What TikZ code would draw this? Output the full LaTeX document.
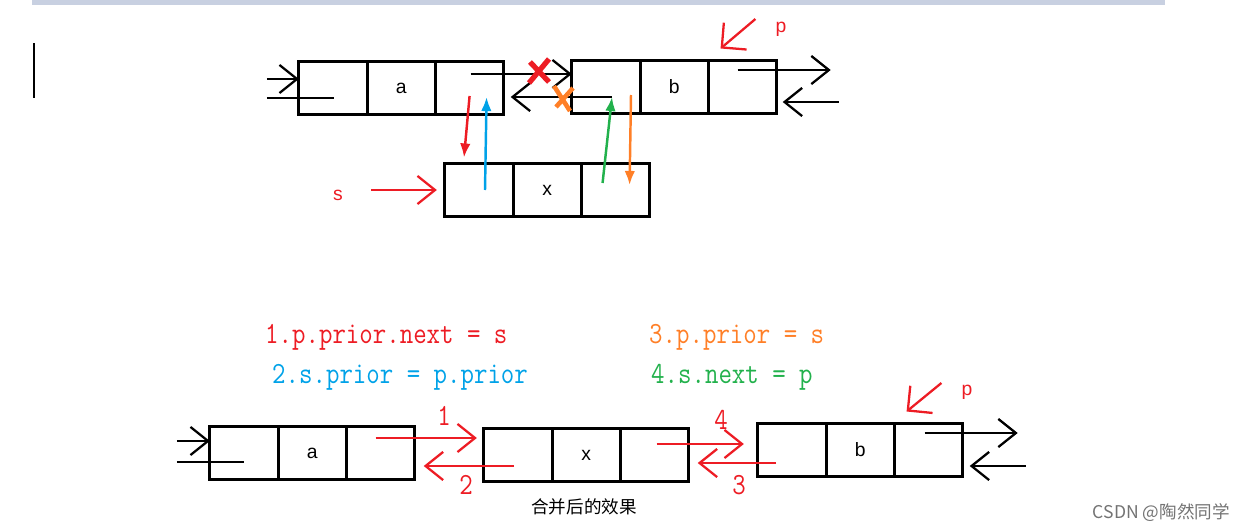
\documentclass[tikz,border=0pt]{standalone}
\usepackage{fontspec}
\setmainfont{Liberation Sans}
\newfontfamily\codefont[FakeStretch=0.85]{Latin Modern Mono}
\newfontfamily\cjk{Noto Sans CJK SC}
\usetikzlibrary{arrows.meta,positioning,calc}
\definecolor{pred}{RGB}{237,28,36}
\definecolor{porange}{RGB}{255,127,39}
\definecolor{pblue}{RGB}{0,162,232}
\definecolor{pgreen}{RGB}{34,177,76}
\definecolor{barblue}{RGB}{200,208,225}

\begin{document}
\begin{tikzpicture}[x=0.02cm,y=-0.02cm,node distance=0pt,
    cell/.style={draw,line width=1.7pt,minimum width=1.366cm,minimum height=1.06cm,
                 inner sep=0pt,outer sep=0pt,font=\fontsize{11}{13}\selectfont},
    link/.style={line width=1.3pt,-{Straight Barb[length=10pt,width=16pt]}},
    ptr/.style={line width=1.3pt,pred,-{Straight Barb[length=10pt,width=20pt]}},
    move/.style={line width=1.4pt,-{Latex[length=8pt,width=6pt]}},
    code/.style={anchor=west,font=\codefont\fontsize{17.5}{20}\selectfont},
    num/.style={font=\codefont\fontsize{17.5}{20}\selectfont,text=pred},
    lbl/.style={font=\fontsize{11}{13}\selectfont,text=pred}]
  \useasboundingbox (0,0) rectangle (1249,531);
  \fill[barblue] (32,0) rectangle (1165,5);
  \draw[line width=1.2pt] (34,43) -- (34,98);

  % before the insertion
  \node[cell] (aL) at (333,88) {};
  \node[cell,right=of aL] (aM) {a};
  \node[cell,right=of aM] (aR) {};
  \node[cell] (bL) at (606,87) {};
  \node[cell,right=of bL] (bM) {b};
  \node[cell,right=of bM] (bR) {};
  \node[cell] (xL) at (479,190) {};
  \node[cell,right=of xL] (xM) {x};
  \node[cell,right=of xM] (xR) {};

  \draw[link] ($(aL.west)+(-32,-9)$) -- ($(aL.west)+(0,-9)$);
  \draw[line width=1.3pt] ($(aL.west)+(-32,10)$) -- ($(aL.center)+(1,10)$);
  \draw[link] ($(aR.center)+(1,-14)$) -- ($(bL.west)+(0,-13)$);
  \draw[link] ($(bL.center)+(6,10)$) -- ($(aR.east)+(7,9)$);
  \draw[link] ($(bR.center)+(-5,-17)$) -- ($(bR.east)+(54,-17)$);
  \draw[link] ($(bR.east)+(62,15)$) -- ($(bR.east)+(6,15)$);
  \draw[pred,line width=3pt] (529,83) -- (549,59) (530,62) -- (549,82);
  \draw[porange,line width=2.6pt] (554,86) -- (570,111) (556,107) -- (573,88);
  \draw[move,pred] ($(aR.center)+(0,8)$) -- ($(xL.north)+(-15,-6)$);
  \draw[move,pblue] ($(xL.center)+(6,0)$) -- ($(aR.center)+(17,9)$);
  \draw[move,pgreen] ($(xR.center)+(-13,-7)$) -- ($(bL.center)+(6,10)$);
  \draw[move,porange] ($(bL.center)+(25,8)$) -- ($(xR.center)+(14,-5)$);

  \node[lbl] (s) at (338,195) {s};
  \draw[link,pred] ($(s.east)+(22,-5)$) -- ($(xL.west)+(-8,0)$);
  \node[lbl] (p) at (781,29) {p};
  \draw[ptr] ($(p.west)+(-14,-10)$) -- ($(bR.north)+(-22,-12)$);

  \node[code,text=pred]    (c1) at (259,337) {1.p.prior.next = s};
  \node[code,text=porange] (c3) at (643,337) {3.p.prior = s};
  \node[code,text=pblue]   (c2) at (266,377) {2.s.prior = p.prior};
  \node[code,text=pgreen]  (c4) at (645,377) {4.s.next = p};

  % after the insertion
  \node[cell] (AL) at (244,453) {};
  \node[cell,right=of AL] (AM) {a};
  \node[cell,right=of AM] (AR) {};
  \node[cell] (XL) at (518,455) {};
  \node[cell,right=of XL] (XM) {x};
  \node[cell,right=of XM] (XR) {};
  \node[cell] (BL) at (792,450) {};
  \node[cell,right=of BL] (BM) {b};
  \node[cell,right=of BM] (BR) {};

  \draw[link] ($(AL.west)+(-33,-12)$) -- ($(AL.west)+(0,-12)$);
  \draw[line width=1.3pt] ($(AL.west)+(-33,9)$) -- ($(AL.center)+(0,9)$);
  \draw[link,pred] ($(AR.center)+(-5,-15)$) -- ($(XL.west)+(-7,-17)$);
  \draw[link,pred] ($(XL.center)+(-4,11)$) -- ($(AR.east)+(9,13)$);
  \draw[link,pred] ($(XR.center)+(2,-11)$) -- ($(BL.west)+(-14,-6)$);
  \draw[link,pred] ($(BL.center)+(-16,13)$) -- ($(XR.east)+(9,8)$);
  \draw[link] ($(BR.center)+(-4,-17)$) -- ($(BR.east)+(55,-17)$);
  \draw[link] ($(BR.east)+(63,16)$) -- ($(BR.east)+(7,16)$);
  \node[num] (n1) at (444,416) {1};
  \node[num] (n2) at (466,485) {2};
  \node[num] (n4) at (721,420) {4};
  \node[num] (n3) at (739,485) {3};

  \node[lbl] (p2) at (967,392) {p};
  \draw[ptr] ($(p2.west)+(-14,-9)$) -- ($(BR.north)+(-22,-12)$);

  \node[font=\cjk\fontsize{10}{12}\selectfont] (cap) at (584,507) {合并后的效果};
  \node[font=\cjk\fontsize{10}{12}\selectfont,text=black!55,anchor=east] (mark)
       at (1236,513) {CSDN @陶然同学};
\end{tikzpicture}
\end{document}
